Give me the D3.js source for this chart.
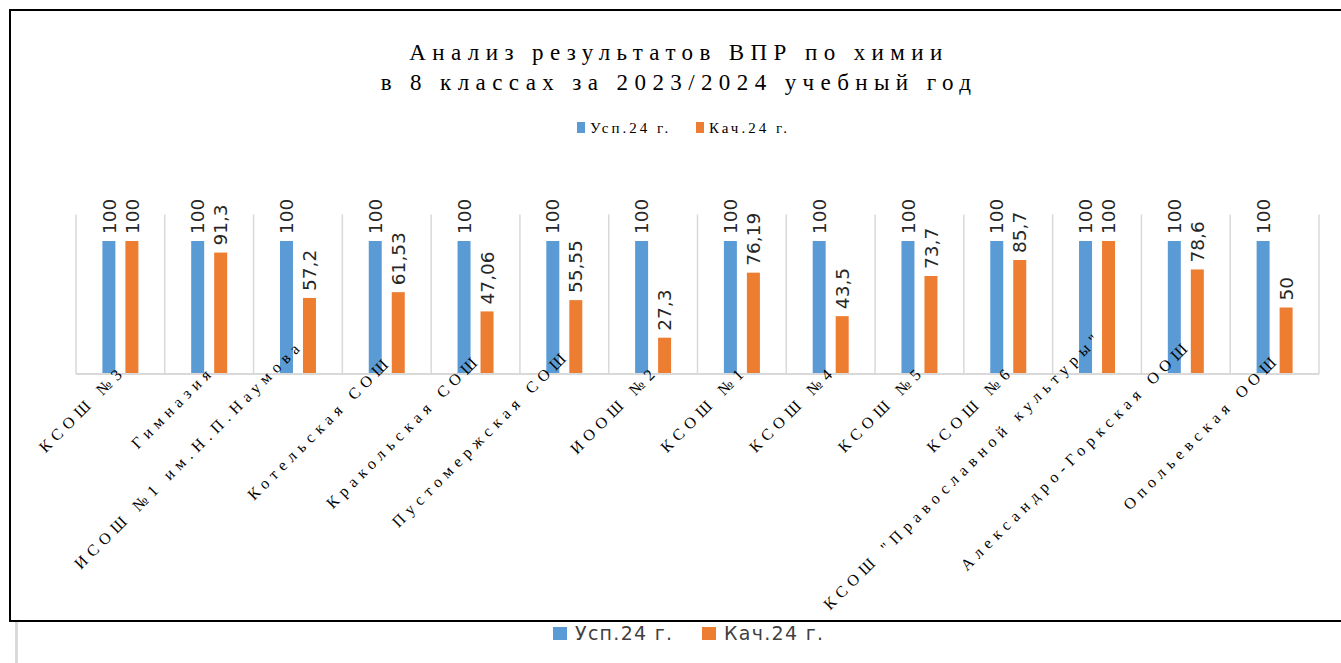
<!DOCTYPE html>
<html>
<head>
<meta charset="utf-8">
<script src="https://cdn.jsdelivr.net/npm/d3@7"></script>
<style>
  html, body { margin: 0; padding: 0; background: #fff; }
  svg { display: block; }
</style>
</head>
<body>
<svg id="chart" width="1341" height="663"></svg>
<script>
const categories = [
  "КСОШ №3",
  "Гимназия",
  "ИСОШ №1 им.Н.П.Наумова",
  "Котельская СОШ",
  "Кракольская СОШ",
  "Пустомержская СОШ",
  "ИООШ №2",
  "КСОШ №1",
  "КСОШ №4",
  "КСОШ №5",
  "КСОШ №6",
  "КСОШ \"Православной культуры\"",
  "Александро-Горкская ООШ",
  "Опольевская ООШ"
];
const seriesNames = ["Усп.24 г.", "Кач.24 г."];
const uspValues = [100, 100, 100, 100, 100, 100, 100, 100, 100, 100, 100, 100, 100, 100];
const kachValues = [100, 91.3, 57.2, 61.53, 47.06, 55.55, 27.3, 76.19, 43.5, 73.7, 85.7, 100, 78.6, 50];
const titleLines = ["Анализ результатов ВПР по химии", "в 8 классах за 2023/2024 учебный год"];
const colors = ["#5B9BD5", "#ED7D31"];

const svg = d3.select("#chart");

// outer frame
svg.append("rect").attr("x", 10).attr("y", 10).attr("width", 1345).attr("height", 611)
  .attr("fill", "#fff").attr("stroke", "#000").attr("stroke-width", 2);
svg.append("line").attr("x1", 16.5).attr("x2", 16.5).attr("y1", 622).attr("y2", 663)
  .attr("stroke", "#d9d9d9").attr("stroke-width", 3);

const x0 = d3.scaleBand().domain(categories).range([76, 1319]).padding(0);
const bw = x0.bandwidth();
const x1 = d3.scaleBand().domain(seriesNames).range([bw * 0.2973, bw * 0.7027]).paddingInner(0.435);
const y = d3.scaleLinear().domain([0, 120]).range([374, 214.4]);

// vertical gridlines at category boundaries
const bounds = categories.map(c => x0(c)).concat([x0(categories[categories.length - 1]) + bw]);
svg.append("g").selectAll("line").data(bounds).join("line")
  .attr("x1", d => d).attr("x2", d => d)
  .attr("y1", y(120)).attr("y2", y(0))
  .attr("stroke", "#d9d9d9").attr("stroke-width", 1.5);

const data = categories.map((c, i) => ({ cat: c, vals: [uspValues[i], kachValues[i]] }));

const groups = svg.append("g").selectAll("g").data(data).join("g")
  .attr("transform", d => `translate(${x0(d.cat)},0)`);

groups.selectAll("rect").data(d => d.vals.map((v, j) => ({ s: seriesNames[j], v, j }))).join("rect")
  .attr("x", d => x1(d.s)).attr("width", x1.bandwidth())
  .attr("y", d => y(d.v)).attr("height", d => y(0) - y(d.v))
  .attr("fill", d => colors[d.j]);

groups.selectAll("text").data(d => d.vals.map((v, j) => ({ s: seriesNames[j], v, j }))).join("text")
  .attr("transform", d => `translate(${x1(d.s) + x1.bandwidth() / 2},${y(d.v) - 7}) rotate(-90)`)
  .attr("dy", "0.36em")
  .attr("font-family", "DejaVu Sans, sans-serif")
  .attr("font-size", 18.5)
  .attr("fill", "#262626")
  .text(d => String(d.v).replace(".", ","));

// baseline
svg.append("line").attr("x1", 76).attr("x2", 1319).attr("y1", y(0)).attr("y2", y(0))
  .attr("stroke", "#d9d9d9").attr("stroke-width", 2);

// category labels
const catLabels = svg.append("g").selectAll("text").data(categories).join("text")
  .attr("text-anchor", "end")
  .attr("font-family", "Liberation Serif, serif")
  .attr("font-size", 16)
  .attr("letter-spacing", "5.6px")
  .attr("fill", "#000")
  .text(d => d);
catLabels.attr("transform", function (d) {
  const L = this.getComputedTextLength();
  const lift = 0.13 * Math.max(0, L - 119);
  return `translate(${x0(d) + bw / 2 + 6.5},${y(0) - 2 - lift}) rotate(-45)`;
});

// title
svg.append("g").selectAll("text").data(titleLines).join("text")
  .attr("x", 679).attr("y", (d, i) => 60 + i * 30)
  .attr("text-anchor", "middle")
  .attr("font-family", "Liberation Serif, serif")
  .attr("font-size", 23)
  .attr("letter-spacing", "6.4px")
  .attr("fill", "#000")
  .text(d => d);

// inner legend
const leg = svg.append("g");
const legX = [577, 696];
seriesNames.forEach((s, i) => {
  leg.append("rect").attr("x", legX[i]).attr("y", 122).attr("width", 8).attr("height", 11).attr("fill", colors[i]);
  leg.append("text").attr("x", legX[i] + 13).attr("y", 133)
    .attr("font-family", "Liberation Serif, serif").attr("font-size", 15)
    .attr("letter-spacing", "3px").attr("fill", "#000").text(s);
});

// bottom legend
const leg2 = svg.append("g");
const leg2X = [553, 702];
seriesNames.forEach((s, i) => {
  leg2.append("rect").attr("x", leg2X[i]).attr("y", 627).attr("width", 14).attr("height", 13).attr("fill", colors[i]);
  leg2.append("text").attr("x", leg2X[i] + 22).attr("y", 640)
    .attr("font-family", "DejaVu Sans, sans-serif").attr("font-size", 19)
    .attr("letter-spacing", "1.3px")
    .attr("fill", "#404040").text(s);
});
</script>
</body>
</html>
